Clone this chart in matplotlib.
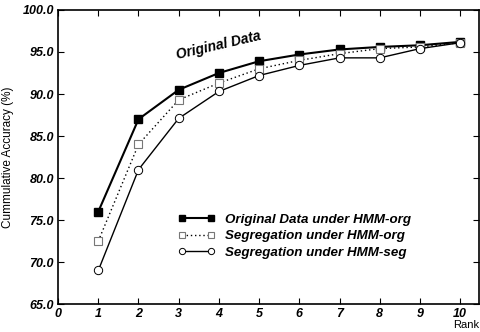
import matplotlib
matplotlib.use("Agg")
import matplotlib.pyplot as plt
from matplotlib.ticker import FormatStrFormatter

plt.rcParams['font.family'] = ['Liberation Sans', 'DejaVu Sans']

rank = [1, 2, 3, 4, 5, 6, 7, 8, 9, 10]
orig_hmm_org = [76.0, 87.0, 90.5, 92.5, 93.9, 94.7, 95.3, 95.6, 95.8, 96.2]
seg_hmm_org = [72.5, 84.0, 89.3, 91.3, 93.0, 94.0, 94.8, 95.4, 95.6, 96.1]
seg_hmm_seg = [69.0, 81.0, 87.1, 90.3, 92.2, 93.4, 94.3, 94.3, 95.4, 96.1]
labels = ["Original Data under HMM-org",
          "Segregation under HMM-org",
          "Segregation under HMM-seg"]
xticks = list(range(0, 11))
yticks = [65.0, 70.0, 75.0, 80.0, 85.0, 90.0, 95.0, 100.0]

fig = plt.figure(figsize=(4.8, 3.32), dpi=100)
ax = fig.add_axes([0.121, 0.084, 0.877, 0.886])

ax.plot(rank, orig_hmm_org, color='black', lw=1.5, marker='s', ms=6,
        mfc='black', mec='black', label=labels[0])
ax.plot(rank, seg_hmm_org, color='black', lw=1.0, ls=(0, (1, 2)), marker='s', ms=5.5,
        mfc='white', mec='#777777', mew=0.8, label=labels[1])
ax.plot(rank, seg_hmm_seg, color='black', lw=1.0, marker='o', ms=6,
        mfc='white', mec='black', mew=0.7, label=labels[2])

ax.set_xlim(0, 10.47)
ax.set_ylim(65, 100)
ax.set_xticks(xticks)
ax.set_yticks(yticks)
ax.yaxis.set_major_formatter(FormatStrFormatter('%.1f'))
ax.tick_params(direction='in', top=True, right=True, length=4, width=0.8,
               labeltop=False, labelright=False, pad=3)
for lab in ax.get_xticklabels() + ax.get_yticklabels():
    lab.set_fontsize(9)
    lab.set_fontweight('bold')
    lab.set_fontstyle('italic')
for sp in ax.spines.values():
    sp.set_linewidth(1.2)

ax.set_ylabel("Cummulative Accuracy (%)", fontsize=8.5, labelpad=6)
fig.text(0.998, 0.005, "Rank", ha='right', va='bottom', fontsize=8)

ax.text(3.98, 95.8, "Original Data", rotation=13, ha='center', va='center',
        fontsize=10, fontweight='bold', fontstyle='italic')

leg = ax.legend(loc='center left', bbox_to_anchor=(0.285, 0.231), frameon=False,
                numpoints=2, handlelength=2.8, handletextpad=0.75, markerscale=0.75,
                labelspacing=0.32, borderpad=0, borderaxespad=0,
                prop={'size': 9.6, 'weight': 'bold', 'style': 'italic'})

fig.savefig("out.png", dpi=100)
